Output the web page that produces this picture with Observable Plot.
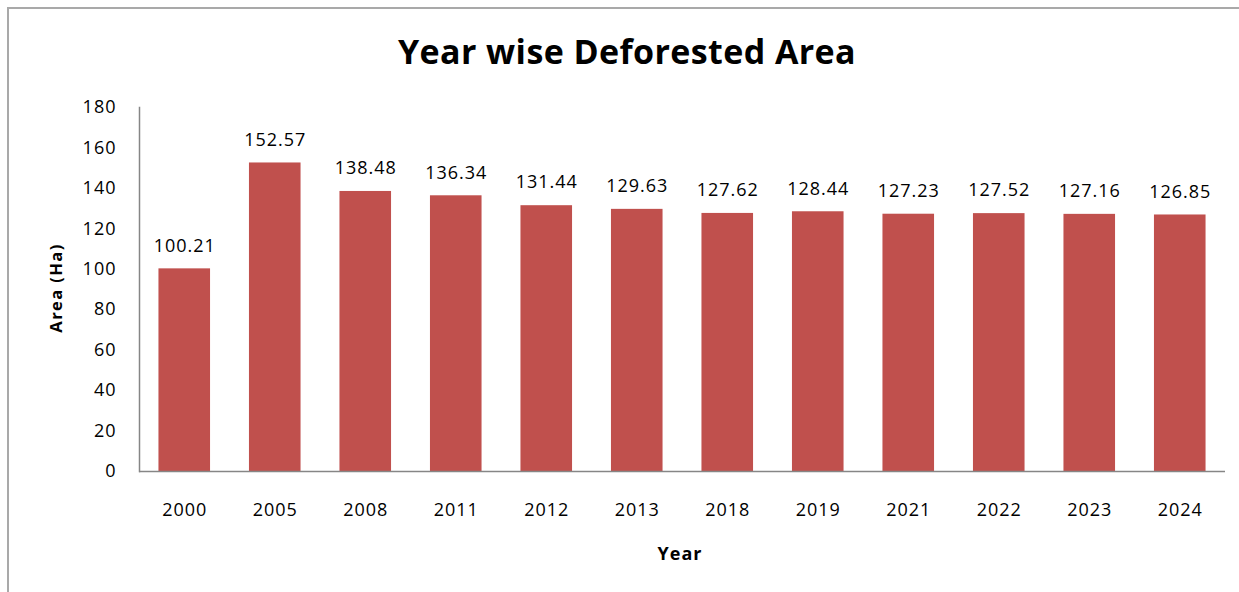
<!DOCTYPE html>
<html>
<head>
<meta charset="utf-8">
<script src="https://cdn.jsdelivr.net/npm/d3@7"></script>
<script src="https://cdn.jsdelivr.net/npm/@observablehq/plot@0.6"></script>
<style>
  html, body { margin: 0; padding: 0; background: #fff; overflow: hidden; }
  #wrap { position: relative; width: 1239px; height: 592px; font-family: "Open Sans", Lato, sans-serif; }
  #border { position: absolute; left: 7px; top: 7px; width: 1250px; height: 600px; border: 2px solid #a9a9a9; box-sizing: border-box; }
  #title { position: absolute; left: 0; width: 1254px; top: 28px; text-align: center; font-size: 34px; font-weight: bold; letter-spacing: 0.4px; color: #000; }
  #ylab { position: absolute; left: 55px; top: 288px; transform: translate(-50%, -50%) rotate(-90deg); font-size: 16.5px; font-weight: bold; letter-spacing: 1.4px; white-space: nowrap; }
  #xlab { position: absolute; left: 680px; top: 553px; transform: translate(-50%, -50%); font-size: 18px; font-weight: bold; letter-spacing: 1px; }
  #chart { position: absolute; left: 0; top: 0; }
</style>
</head>
<body>
<div id="wrap">
  <div id="border"></div>
  <div id="chart"></div>
  <div id="title">Year wise Deforested Area</div>
  <div id="ylab">Area (Ha)</div>
  <div id="xlab">Year</div>
</div>
<script>
const years = ["2000", "2005", "2008", "2011", "2012", "2013", "2018", "2019", "2021", "2022", "2023", "2024"];
const areas = [100.21, 152.57, 138.48, 136.34, 131.44, 129.63, 127.62, 128.44, 127.23, 127.52, 127.16, 126.85];
const yTicks = [0, 20, 40, 60, 80, 100, 120, 140, 160, 180];

const data = years.map((y, i) => ({year: y, area: areas[i]}));

const chart = Plot.plot({
  width: 1239,
  height: 592,
  marginLeft: 139,
  marginRight: 14,
  marginTop: 107,
  marginBottom: 121,
  style: {fontFamily: "'Open Sans', Lato, sans-serif", fontSize: "18px", letterSpacing: "1px", color: "#000", background: "transparent"},
  x: {domain: years, paddingInner: 0.43, paddingOuter: 0.215, round: false, label: null},
  y: {domain: [0, 180], label: null},
  marks: [
    Plot.axisY({ticks: yTicks, tickSize: 0, tickPadding: 23, fontSize: 18, label: null}),
    Plot.axisX({tickSize: 0, tickPadding: 32, fontSize: 18, label: null}),
    Plot.barY(data, {x: "year", y: "area", fill: "#C0504D"}),
    Plot.frame({anchor: "left", stroke: "#868686", strokeWidth: 1.5}),
    Plot.ruleY([0], {stroke: "#868686", strokeWidth: 1.5}),
    Plot.text(data, {x: "year", y: "area", text: d => d.area.toFixed(2), dy: -23, fontSize: 18, fill: "#000"})
  ]
});
document.getElementById("chart").appendChild(chart);
</script>
</body>
</html>
